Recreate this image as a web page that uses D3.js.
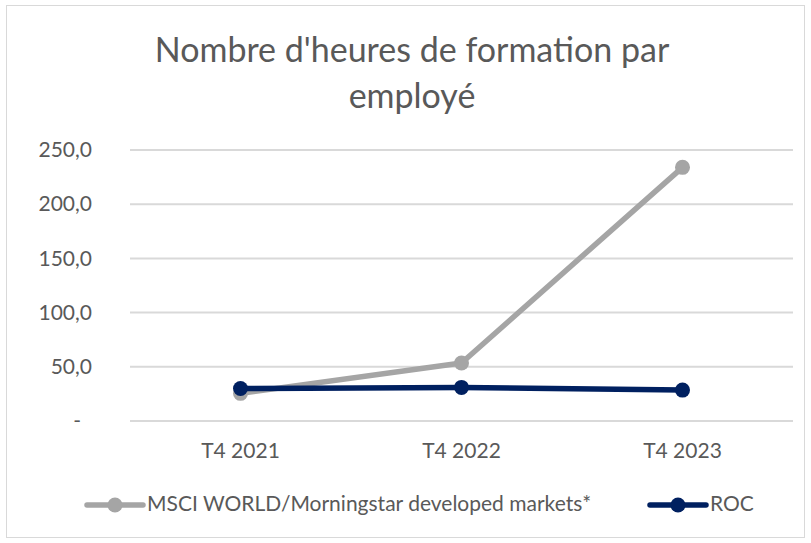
<!DOCTYPE html>
<html>
<head>
<meta charset="utf-8">
<script src="https://cdn.jsdelivr.net/npm/d3@7"></script>
<style>
  body { margin: 0; background: #fff; }
  svg text { font-family: Lato, "Open Sans", sans-serif; fill: #595959; }
</style>
</head>
<body>
<svg id="chart" width="811" height="543"></svg>
<script>
// Chart data.
const categories = [ 'T4 2021', 'T4 2022', 'T4 2023' ];
const msciValues = [ 25.5, 53.5, 234.0 ];
const rocValues  = [ 30.0, 31.0, 28.5 ];
const yTicks     = [ 0, 50, 100, 150, 200, 250 ];
const titleLines = [ "Nombre d'heures de formation par", 'employé' ];
const series = [
  { name: 'MSCI WORLD/Morningstar developed markets*', values: msciValues, color: '#A5A5A5' },
  { name: 'ROC', values: rocValues, color: '#002060' }
];

const width  = 811;
const height = 543;
const margin = { top: 150, right: 18, bottom: 122, left: 130 };

const svg = d3.select( '#chart' );

// Outer border.
svg.append( 'rect' )
  .attr( 'x', 6.5 ).attr( 'y', 5.5 )
  .attr( 'width', width - 13 ).attr( 'height', height - 11 )
  .attr( 'fill', '#fff' ).attr( 'stroke', '#D9D9D9' );

// Title.
svg.append( 'text' )
  .attr( 'text-anchor', 'middle' )
  .attr( 'font-size', 34 )
  .selectAll( 'tspan' )
  .data( titleLines )
  .enter( ).append( 'tspan' )
    .attr( 'x', 412 )
    .attr( 'y', ( d, i ) => 62 + i * 46 )
    .text( d => d );

const x = d3.scaleBand( )
  .domain( categories )
  .range( [ margin.left, width - margin.right ] );

const y = d3.scaleLinear( )
  .domain( [ 0, 250 ] )
  .range( [ height - margin.bottom, margin.top ] );

// Gridlines.
svg.append( 'g' )
  .selectAll( 'line' )
  .data( yTicks )
  .enter( ).append( 'line' )
    .attr( 'x1', margin.left ).attr( 'x2', width - margin.right )
    .attr( 'y1', d => y( d ) )
    .attr( 'y2', d => y( d ) )
    .attr( 'stroke', '#D9D9D9' ).attr( 'stroke-width', 2 );

// Y axis labels.
const fmt = d => d === 0 ? '-' : d3.format( '.1f' )( d ).replace( '.', ',' );
const yAxis = svg.append( 'g' )
  .attr( 'transform', `translate(92,0)` )
  .call( d3.axisLeft( y ).tickValues( yTicks ).tickFormat( fmt ).tickSize( 0 ).tickPadding( 0 ) );
yAxis.select( '.domain' ).remove( );
yAxis.selectAll( 'text' ).attr( 'font-size', 21 ).attr( 'font-family', null );
yAxis.selectAll( 'text' ).filter( d => d === 0 ).attr( 'dx', -11 );

// X axis labels.
const xAxis = svg.append( 'g' )
  .attr( 'transform', `translate(0,${ height - margin.bottom + 22 })` )
  .call( d3.axisBottom( x ).tickSize( 0 ).tickPadding( 0 ) );
xAxis.select( '.domain' ).remove( );
xAxis.selectAll( 'text' ).attr( 'font-size', 21 ).attr( 'font-family', null );

// Lines and markers.
const line = d3.line( )
  .x( ( d, i ) => x( categories[i] ) + x.bandwidth( ) / 2 )
  .y( d => y( d ) );

series.forEach( s => {
  const g = svg.append( 'g' );
  g.append( 'path' )
    .attr( 'd', line( s.values ) )
    .attr( 'fill', 'none' )
    .attr( 'stroke', s.color )
    .attr( 'stroke-width', 5.5 )
    .attr( 'stroke-linejoin', 'round' )
    .attr( 'stroke-linecap', 'round' );
  g.selectAll( 'circle' )
    .data( s.values )
    .enter( ).append( 'circle' )
      .attr( 'cx', ( d, i ) => x( categories[i] ) + x.bandwidth( ) / 2 )
      .attr( 'cy', d => y( d ) )
      .attr( 'r', 7.5 )
      .attr( 'fill', s.color );
} );

// Legend.
const legendItems = [ { x: 87, s: series[0] }, { x: 650, s: series[1] } ];
legendItems.forEach( item => {
  const g = svg.append( 'g' ).attr( 'transform', `translate(${ item.x },505)` );
  g.append( 'line' ).attr( 'x1', 0 ).attr( 'x2', 56 )
    .attr( 'stroke', item.s.color ).attr( 'stroke-width', 5.5 ).attr( 'stroke-linecap', 'round' );
  g.append( 'circle' ).attr( 'cx', 28 ).attr( 'r', 7.5 ).attr( 'fill', item.s.color );
  g.append( 'text' ).attr( 'x', 60 ).attr( 'y', 6 )
    .attr( 'font-size', 21 ).text( item.s.name );
} );
</script>
</body>
</html>
